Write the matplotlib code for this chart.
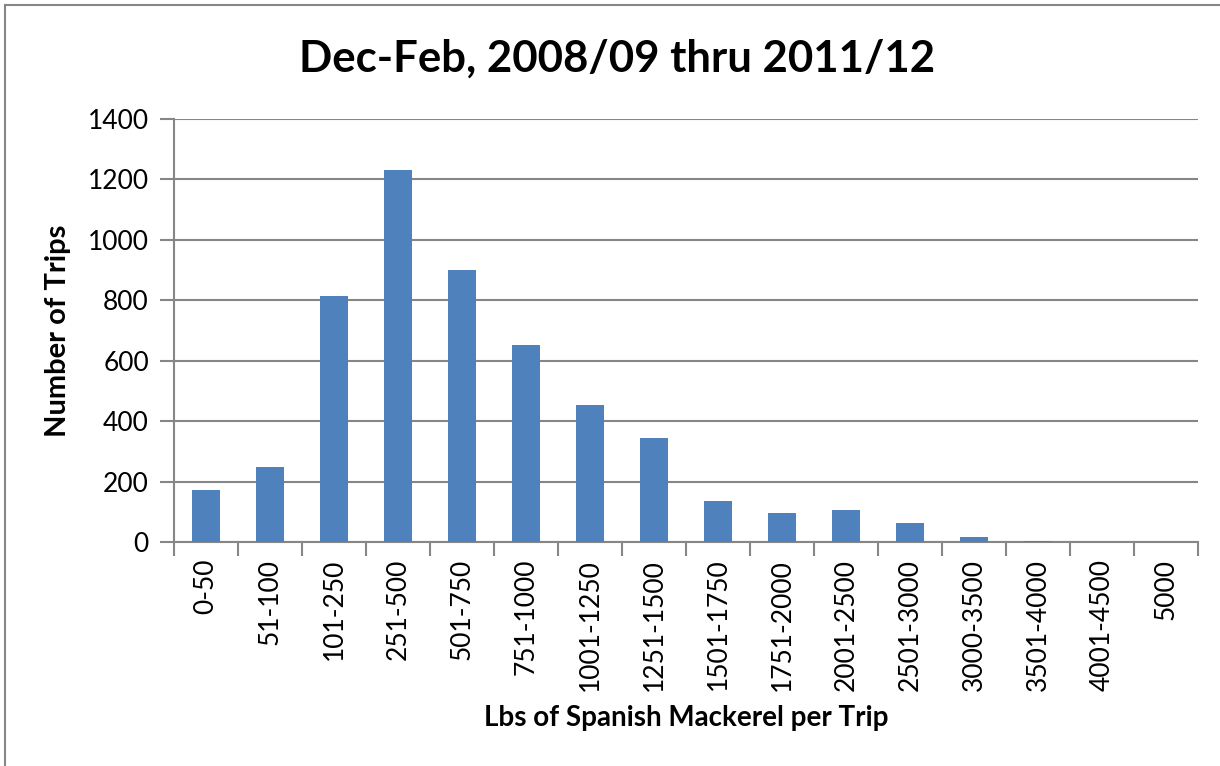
import numpy as np
import matplotlib.pyplot as plt
from matplotlib.lines import Line2D

# bins of catch (lbs) and number of trips in each
categories = ["0-50", "51-100", "101-250", "251-500", "501-750", "751-1000",
              "1001-1250", "1251-1500", "1501-1750", "1751-2000", "2001-2500",
              "2501-3000", "3000-3500", "3501-4000", "4001-4500", "5000"]
trips = [172, 248, 815, 1232, 900, 652, 454, 344, 136, 96, 106, 64, 16, 3, 0, 0]
y_ticks = [0, 200, 400, 600, 800, 1000, 1200, 1400]

plt.rcParams['font.family'] = ['Lato', 'DejaVu Sans']
grey = "#868686"

fig = plt.figure(figsize=(12.2, 7.66), dpi=100)
ax = fig.add_axes([0.1426, 0.2924, 0.8394, 0.5522])

x = np.arange(len(categories))
ax.bar(x, trips, width=0.43, color="#4f81bd", zorder=3)

ax.set_xlim(-0.5, len(categories) - 0.5)
ax.set_ylim(0, 1400)
ax.set_yticks(y_ticks)
ax.yaxis.grid(True, color=grey, linewidth=1.5, zorder=0)

# labels at category centres, tick marks at the boundaries
ax.set_xticks(x)
ax.set_xticklabels(categories, rotation=90, fontsize=19)
ax.set_xticks(np.arange(len(categories) + 1) - 0.5, minor=True)
ax.tick_params(axis='x', which='major', length=0, pad=12)
ax.tick_params(axis='x', which='minor', length=10, width=1.5, color=grey)
ax.tick_params(axis='y', length=10, width=1.5, color=grey, labelsize=19, pad=8)

for side in ['top', 'right']:
    ax.spines[side].set_visible(False)
for side in ['left', 'bottom']:
    ax.spines[side].set_color(grey)
    ax.spines[side].set_linewidth(1.5)

ax.set_ylabel("Number of Trips", fontsize=21, fontweight='bold', labelpad=12)
ax.set_xlabel("Lbs of Spanish Mackerel per Trip", fontsize=20, fontweight='bold', labelpad=10)
fig.text(0.506, 0.924, "Dec-Feb, 2008/09 thru 2011/12", fontsize=31.5,
         fontweight='bold', ha='center', va='center')

# chart-area border (only left and top edges visible in the crop)
fig.add_artist(Line2D([0.0045, 0.0045], [0, 0.9935], color=grey, linewidth=1.5,
                      transform=fig.transFigure))
fig.add_artist(Line2D([0.0045, 1], [0.9935, 0.9935], color=grey, linewidth=1.5,
                      transform=fig.transFigure))

fig.savefig("out.png", dpi=100)
